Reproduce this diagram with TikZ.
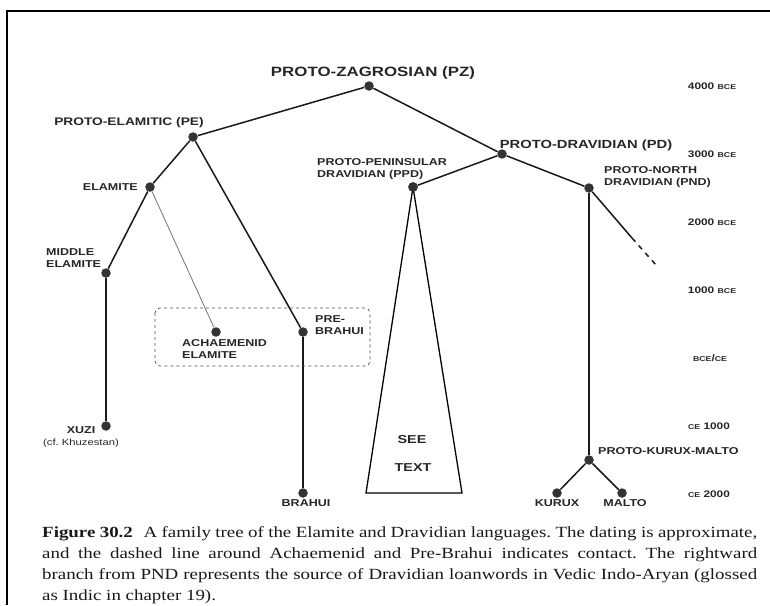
\documentclass[tikz,border=0pt]{standalone}
\usepackage{fontspec}
\setmainfont{Liberation Serif}
\newfontfamily\labfont{Liberation Sans}[FakeStretch=1.25]
\newfontfamily\capfont{Liberation Serif}[FakeStretch=1.22]
\newcommand\myBCE{{\fontsize{7}{7}\selectfont BCE}}
\newcommand\myCE{{\fontsize{7}{7}\selectfont CE}}
\begin{document}
\begin{tikzpicture}[x=1pt,y=-1pt,
  dot/.style={circle, fill=black!80, draw=none, inner sep=0pt, minimum size=9.5pt},
  lab/.style={font=\labfont\bfseries\fontsize{10}{12}\selectfont, text=black!85, inner sep=0pt, align=left},
  datelab/.style={font=\labfont\bfseries\fontsize{9.5}{11}\selectfont, text=black!85, inner sep=0pt},
  branch/.style={line width=1.5pt, draw=black!90},
  thinbranch/.style={line width=0.8pt, draw=black!55},
  contactbox/.style={dashed, line width=0.7pt, draw=black!70, rounded corners=5pt}]
\useasboundingbox (0,0) rectangle (770,605);
% frame
\draw[line width=2pt] (7,605) -- (7,11) -- (770,11);

% dots
\node[dot] (pz) at (369,86) {};
\node[dot] (pe) at (193,137) {};
\node[dot] (el) at (150,187) {};
\node[dot] (me) at (106,273) {};
\node[dot] (xu) at (106,426) {};
\node[dot] (ach) at (216,332) {};
\node[dot] (pb) at (303,332) {};
\node[dot] (br) at (303,493) {};
\node[dot] (pd) at (502,154) {};
\node[dot] (ppd) at (413,187) {};
\node[dot] (pnd) at (589,188) {};
\node[dot] (pkm) at (589,460) {};
\node[dot] (ku) at (557,493) {};
\node[dot] (ma) at (622,493) {};
\coordinate (tl) at (366,493);
\coordinate (tr) at (462,493);
\coordinate (dashstart) at (632,238);
\coordinate (dashend) at (656,265);

% connectors
\draw[branch] (pz) -- (pe);
\draw[branch] (pz) -- (pd);
\draw[branch] (pe) -- (el);
\draw[branch] (pe) -- (pb);
\draw[branch] (el) -- (me);
\draw[thinbranch] (el) -- (ach);
\draw[branch] (me) -- (xu);
\draw[branch] (pb) -- (br);
\draw[branch] (pd) -- (ppd);
\draw[branch] (pd) -- (pnd);
\draw[branch] (pnd) -- (pkm);
\draw[branch] (pkm) -- (ku);
\draw[branch] (pkm) -- (ma);
\draw[branch] (pnd) -- (dashstart);
\draw[branch, dash pattern=on 5pt off 5pt] (dashstart) -- (dashend);
\draw[line width=1.3pt, line join=miter] (ppd.center) -- (tl) -- (tr) -- cycle;
\fill[black!80] (ppd) circle (4.75pt);

% contact box
\draw[contactbox] (155,308) rectangle (370,366);

% labels
\node[lab, font=\labfont\bfseries\fontsize{13.5}{15}\selectfont] (lpz) at (373,73) {PROTO-ZAGROSIAN (PZ)};
\node[lab, font=\labfont\bfseries\fontsize{11}{13}\selectfont] (lpe) at (129,123) {PROTO-ELAMITIC (PE)};
\node[lab, anchor=east] (lel) at (138,187) {ELAMITE};
\node[lab, anchor=west] (lme) at (46,258.5) {MIDDLE\\ELAMITE};
\node[lab, align=center] (lxu) at (81,437) {XUZI\\{\mdseries\fontsize{9}{11}\selectfont (cf.\ Khuzestan)}};
\node[lab, anchor=west] (lach) at (182,349) {ACHAEMENID\\ELAMITE};
\node[lab, anchor=west] (lpb) at (315,325.5) {PRE-\\BRAHUI};
\node[lab] (lbr) at (306,503) {BRAHUI};
\node[lab, anchor=west] (lppd) at (317,169.5) {PROTO-PENINSULAR\\DRAVIDIAN (PPD)};
\node[lab, font=\labfont\bfseries\fontsize{11.8}{13}\selectfont] (lpd) at (586,145) {PROTO-DRAVIDIAN (PD)};
\node[lab, anchor=west] (lpnd) at (604,177.5) {PROTO-NORTH\\DRAVIDIAN (PND)};
\node[lab, anchor=west] (lpkm) at (598,451) {PROTO-KURUX-MALTO};
\node[lab] (lku) at (557,503) {KURUX};
\node[lab] (lma) at (625,503) {MALTO};
\node[lab, font=\labfont\bfseries\fontsize{11.5}{13}\selectfont] (lsee) at (412,440) {SEE};
\node[lab, font=\labfont\bfseries\fontsize{11.5}{13}\selectfont] (ltext) at (413,468) {TEXT};

% dates
\node[datelab] (d1) at (712,86) {4000 \myBCE};
\node[datelab] (d2) at (712,154) {3000 \myBCE};
\node[datelab] (d3) at (712,222) {2000 \myBCE};
\node[datelab] (d4) at (712,290) {1000 \myBCE};
\node[datelab] (d5) at (710,358) {\myBCE/\myCE};
\node[datelab] (d6) at (709,426) {\myCE\ 1000};
\node[datelab] (d7) at (709,494) {\myCE\ 2000};

% caption
\node[anchor=base west, inner sep=0pt, text=black!90] (cap) at (42,537)
{\parbox[t]{715pt}{\capfont\fontsize{15.5}{21}\selectfont\frenchspacing\hyphenpenalty=10000\emergencystretch=20pt
{\bfseries Figure 30.2}\hspace{0.4em} A family tree of the Elamite and Dravidian languages. The dating is approximate,\linebreak
and the dashed line around Achaemenid and Pre-Brahui indicates contact. The rightward\linebreak
branch from PND represents the source of Dravidian loanwords in Vedic Indo-Aryan (glossed\linebreak
as Indic in chapter 19).}};
\end{tikzpicture}
\end{document}
